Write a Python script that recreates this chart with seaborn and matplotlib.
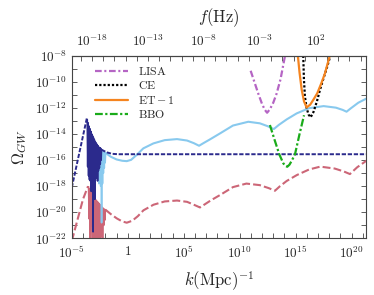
import numpy as np
import pandas as pd
import matplotlib
matplotlib.use("Agg")
import matplotlib.pyplot as plt
import seaborn as sns
from matplotlib.ticker import FixedLocator, FuncFormatter, NullFormatter
from matplotlib.lines import Line2D

# ---------------- data (log10 k [Mpc^-1], log10 Omega_GW) ----------------
navy_rise_k = [-5.0, -3.66]
navy_rise_y = [-18.1, -12.8]
navy_osc_k = [-3.62, -3.58, -3.54, -3.50, -3.46, -3.42, -3.38, -3.34, -3.30, -3.26, -3.22,
              -3.18, -3.14, -3.10, -3.06, -3.02, -2.98, -2.94, -2.90, -2.86, -2.82, -2.78,
              -2.74, -2.70, -2.66, -2.62, -2.58, -2.54, -2.50, -2.46, -2.42, -2.38, -2.35]
navy_osc_y = [-12.9, -16.5, -13.15, -17.2, -13.4, -17.5, -13.6, -17.6, -13.8, -18.4, -14.0,
              -17.6, -14.15, -21.5, -14.3, -17.5, -14.45, -19.0, -14.6, -17.4, -14.7, -17.2,
              -14.8, -17.6, -14.9, -16.8, -15.0, -16.6, -15.05, -16.3, -15.1, -16.0, -15.2]
navy_tail_k = [-2.35, -1.9, -1.4, -0.8, 21.5]
navy_tail_y = [-15.2, -15.4, -15.52, -15.55, -15.55]

sky_osc_k = [-2.78, -2.74, -2.70, -2.66, -2.62, -2.58, -2.54, -2.50, -2.46, -2.42, -2.38,
             -2.34, -2.30, -2.26, -2.22, -2.18, -2.14, -2.10, -2.06, -2.02, -1.98]
sky_osc_y = [-14.9, -16.5, -15.0, -17.0, -15.05, -17.8, -15.1, -17.2, -15.15, -18.0, -15.2,
             -20.8, -15.25, -17.8, -15.3, -17.0, -15.35, -16.6, -15.4, -16.2, -15.45]
sky_k = [-1.98, -1.5, -1.0, -0.5, -0.09, 0.3, 0.8, 1.39, 2.29, 3.3, 4.4, 5.3, 5.9, 6.37, 6.8,
         7.35, 8.25, 9.4, 10.77, 11.8, 12.5, 13.05, 13.5, 14.2, 15.09, 16.2, 17.5, 18.6,
         19.2, 19.55, 19.9, 20.6, 21.4]
sky_y = [-15.45, -15.75, -15.95, -16.05, -16.08, -15.98, -15.6, -15.1, -14.72, -14.47,
         -14.39, -14.5, -14.7, -14.9, -14.68, -14.41, -13.95, -13.35, -13.06, -13.18, -13.4,
         -13.62, -13.3, -12.88, -12.42, -12.02, -11.86, -11.98, -12.15, -12.29, -12.05,
         -11.6, -11.25]

pink_rise_k = [-5.0, -4.5, -4.0, -3.55]
pink_rise_y = [-22.2, -20.6, -19.0, -18.0]
pink_osc_k = [-3.50, -3.45, -3.40, -3.35, -3.30, -3.25, -3.20, -3.15, -3.10, -3.05, -3.00,
              -2.95, -2.90, -2.85, -2.80, -2.75, -2.70, -2.65, -2.60, -2.55, -2.50, -2.45,
              -2.40, -2.35, -2.30, -2.25, -2.20, -2.15, -2.10, -2.05, -2.00]
pink_osc_y = [-18.05, -20.5, -18.2, -23.0, -18.4, -21.0, -18.55, -23.0, -18.7, -23.0, -18.85,
              -22.0, -19.0, -23.0, -19.1, -23.0, -19.2, -21.5, -19.3, -23.0, -19.4, -23.0,
              -19.5, -21.8, -19.6, -23.0, -19.68, -21.0, -19.75, -20.6, -19.8]
pink_k = [-2.0, -1.5, -0.98, -0.5, -0.09, 0.4, 0.9, 1.4, 2.3, 3.3, 4.4, 5.3, 5.9, 6.45, 6.9,
          7.4, 8.3, 9.4, 10.6, 11.8, 12.6, 13.15, 13.6, 14.2, 15.1, 16.2, 17.2, 18.5, 19.3,
          19.85, 20.5, 21.4]
pink_y = [-19.8, -20.15, -20.47, -20.7, -20.8, -20.65, -20.3, -19.85, -19.42, -19.17, -19.1,
          -19.2, -19.42, -19.63, -19.38, -19.1, -18.65, -18.07, -17.8, -17.92, -18.15,
          -18.35, -18.0, -17.6, -17.15, -16.72, -16.5, -16.65, -16.87, -17.07, -16.55, -16.0]

lisa_k = [10.98, 11.35, 11.66, 12.0, 12.25, 12.45, 12.7, 13.0, 13.3, 13.65, 14.05]
lisa_y = [-9.15, -10.1, -10.9, -11.7, -12.15, -12.37, -12.1, -11.6, -10.9, -9.8, -8.0]
ce_k = [15.68, 15.74, 15.83, 15.98, 16.15, 16.34, 16.6, 16.9, 17.17, 17.5, 17.8, 18.1]
ce_y = [-8.0, -9.8, -11.14, -12.0, -12.5, -12.72, -12.3, -11.5, -10.63, -9.7, -8.9, -8.0]
et_k = [15.2, 15.35, 15.54, 15.75, 15.98, 16.3, 16.6, 16.93, 17.3, 17.62, 18.05]
et_y = [-8.0, -9.3, -10.6, -11.5, -11.96, -11.75, -11.35, -10.88, -10.1, -9.35, -8.0]
bbo_k = [12.7, 13.1, 13.54, 13.9, 14.1, 14.25, 14.45, 14.65, 14.94, 15.35, 15.75]
bbo_y = [-13.31, -14.4, -15.56, -16.25, -16.45, -16.51, -16.35, -16.05, -15.56, -14.0, -12.56]

legend_labels = [r"$\mathrm{LISA}$", r"$\mathrm{CE}$", r"$\mathrm{ET}-1$", r"$\mathrm{BBO}$"]
bottom_ticks = [-5, 0, 5, 10, 15, 20]
top_ticks = [-18, -13, -8, -3, 2]
left_ticks = [-8, -10, -12, -14, -16, -18, -20, -22]
K_TO_F = 1.546e-15  # Hz per Mpc^-1

# ---------------- style ----------------
sns.set_theme(style="ticks")
plt.rcParams["font.family"] = ["DejaVu Serif"]
plt.rcParams["mathtext.fontset"] = "cm"
plt.rcParams["axes.linewidth"] = 0.8
plt.rcParams["axes.edgecolor"] = "#444444"

fig = plt.figure(figsize=(3.74, 2.95), dpi=100)
ax = fig.add_axes([0.192, 0.192, 0.787, 0.619])

NAVY = "#2b2a8c"
SKY = "#88c9ee"
PINK = "#cc6677"


def draw(k, y, color, lw, ls="-", label=None):
    sns.lineplot(x=10.0 ** np.array(k), y=10.0 ** np.array(y), ax=ax, color=color,
                 linewidth=lw, linestyle=ls, sort=False, estimator=None, label=label,
                 legend=False)


# pink family
draw(pink_rise_k, pink_rise_y, PINK, 1.5, (0, (3.8, 1.5)))
draw(pink_osc_k, pink_osc_y, PINK, 1.2)
draw(pink_k, pink_y, PINK, 1.5, (0, (3.8, 1.5)))
# sky blue family
draw(sky_osc_k, sky_osc_y, SKY, 1.2)
draw(sky_k, sky_y, SKY, 1.5)
# navy family
draw(navy_osc_k, navy_osc_y, NAVY, 1.2)
draw(navy_rise_k, navy_rise_y, NAVY, 1.4, (0, (2.2, 0.9)))
draw(navy_tail_k, navy_tail_y, NAVY, 1.4, (0, (2.2, 0.9)))

# detector sensitivities
LISA_C, CE_C, ET_C, BBO_C = "#b565c4", "#000000", "#f5841f", "#1aab1a"
LISA_LS, CE_LS, ET_LS, BBO_LS = (0, (3, 1.2, 0.9, 1.2)), (0, (1, 0.9)), "-", (0, (3.5, 1.1, 1.0, 1.1))
draw(lisa_k, lisa_y, LISA_C, 1.6, LISA_LS)
draw(ce_k, ce_y, CE_C, 1.6, CE_LS)
draw(et_k, et_y, ET_C, 1.6, ET_LS)
draw(bbo_k, bbo_y, BBO_C, 1.6, BBO_LS)

handles = [Line2D([], [], color=c, lw=1.6, linestyle=s)
           for c, s in zip([LISA_C, CE_C, ET_C, BBO_C], [LISA_LS, CE_LS, ET_LS, BBO_LS])]
ax.legend(handles, legend_labels, loc="upper left", bbox_to_anchor=(0.079, 0.95),
          frameon=False, fontsize=8.5, borderpad=0, borderaxespad=0, handlelength=2.8,
          handletextpad=0.85, labelspacing=0.12)

# ---------------- axes ----------------
ax.set_xscale("log")
ax.set_yscale("log")
ax.set_xlim(1e-5, 10 ** 21.3)
ax.set_ylim(1e-22, 1e-8)


def pow_fmt(v, pos):
    e = int(round(np.log10(v)))
    return r"$1$" if e == 0 else r"$10^{%d}$" % e


ax.xaxis.set_major_locator(FixedLocator([10.0 ** e for e in bottom_ticks]))
ax.xaxis.set_major_formatter(FuncFormatter(pow_fmt))
ax.xaxis.set_minor_locator(FixedLocator([10.0 ** e for e in range(-5, 22)]))
ax.xaxis.set_minor_formatter(NullFormatter())
ax.yaxis.set_major_locator(FixedLocator([10.0 ** e for e in left_ticks]))
ax.yaxis.set_major_formatter(FuncFormatter(pow_fmt))
ax.yaxis.set_minor_locator(FixedLocator([10.0 ** e for e in range(-22, -7)]))
ax.yaxis.set_minor_formatter(NullFormatter())

ax.tick_params(which="both", direction="in", top=False, right=True, labelsize=9.5,
               color="#444444", width=0.6)
ax.tick_params(which="major", length=3.5)
ax.tick_params(which="minor", length=3.5)
ax.tick_params(axis="x", pad=5)
ax.tick_params(axis="y", pad=3.5)

sec = ax.secondary_xaxis("top", functions=(lambda k: k * K_TO_F, lambda f: f / K_TO_F))
sec.set_xscale("log")
sec.xaxis.set_major_locator(FixedLocator([10.0 ** e for e in top_ticks]))
sec.xaxis.set_major_formatter(FuncFormatter(pow_fmt))
sec.xaxis.set_minor_locator(FixedLocator([10.0 ** e for e in range(-20, 8)]))
sec.xaxis.set_minor_formatter(NullFormatter())
sec.tick_params(which="both", direction="in", length=3.5, labelsize=9.5, pad=5,
                color="#444444", width=0.6)
sec.set_xlabel(r"$f(\mathrm{Hz})$", fontsize=12, labelpad=8)

ax.set_xlabel(r"$k(\mathrm{Mpc})^{-1}$", fontsize=12, labelpad=6)
ax.set_ylabel(r"$\Omega_{GW}$", fontsize=12, labelpad=4)

fig.savefig("out.png", dpi=100)
